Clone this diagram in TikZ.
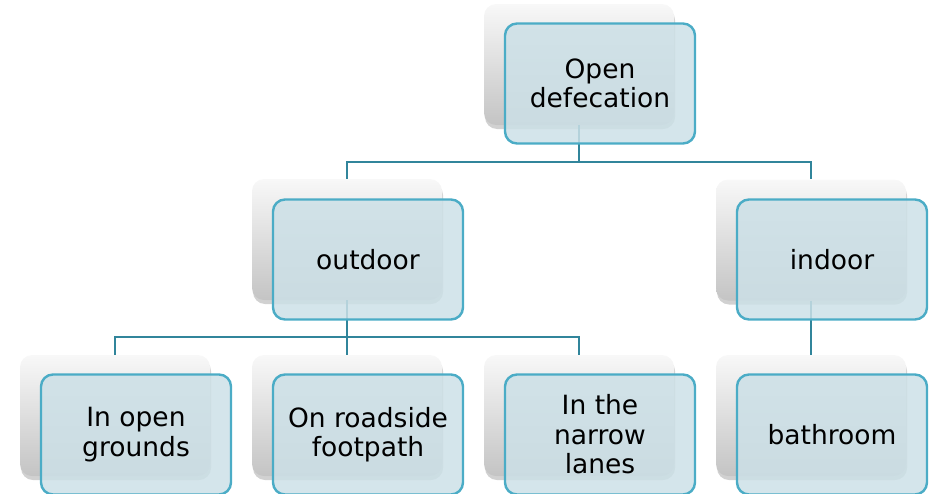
\documentclass[tikz,border=0pt]{standalone}
\usepackage{fontspec}
\setmainfont{DejaVu Sans}
\usetikzlibrary{shadows}
\definecolor{frontfill}{RGB}{204,224,231}
\definecolor{frontline}{RGB}{75,172,198}
\definecolor{connline}{RGB}{49,133,155}
\definecolor{backtop}{RGB}{248,248,248}
\definecolor{backmid}{RGB}{242,242,242}
\definecolor{backbot}{RGB}{196,196,196}
\tikzset{
  backbox/.style={rounded corners=12pt, minimum width=190pt, minimum height=121pt, inner sep=0pt,
    top color=backtop, middle color=backmid, bottom color=backbot,
    drop shadow={shadow xshift=1pt, shadow yshift=-4pt, fill=black, opacity=0.18}},
  frontbox/.style={rounded corners=12pt, minimum width=190pt, minimum height=120pt, inner sep=0pt,
    draw=frontline, line width=2.4pt, fill=frontfill, fill opacity=0.85, text opacity=1,
    align=center, text=black, font=\fontsize{26.5}{29.5}\selectfont},
  conn/.style={draw=connline, line width=2.2pt}
}
\begin{document}
\begin{tikzpicture}[x=1pt,y=-1pt]
\useasboundingbox (0,0) rectangle (932,493);
% back boxes
\node[backbox] (tB) at (579,64.5) {};
\node[backbox] (oB) at (347,239.5) {};
\node[backbox] (iB) at (811,240) {};
\node[backbox] (gB) at (115,415.5) {};
\node[backbox] (rB) at (347,415.5) {};
\node[backbox] (nB) at (579,415.5) {};
\node[backbox] (bB) at (811,415.5) {};
% connectors
\coordinate (j1) at (579,162);
\coordinate (j2) at (347,337);
\draw[conn] (tB.south) -- (j1);
\draw[conn] (oB.north) |- (j1) -| (iB.north);
\draw[conn] (oB.south) -- (j2);
\draw[conn] (gB.north) |- (j2) -| (nB.north);
\draw[conn] (j2) -- (rB.north);
\draw[conn] (iB.south) -- (bB.north);
% front boxes
\node[frontbox] (tF) at (600,83.5) {Open\\defecation};
\node[frontbox] (oF) at (368,259.5) {outdoor};
\node[frontbox] (iF) at (832,259.5) {indoor};
\node[frontbox] (gF) at (136,434.5) {In open\\grounds};
\node[frontbox] (rF) at (368,434.5) {On roadside\\footpath};
\node[frontbox] (nF) at (600,434.5) {In the\\narrow\\lanes};
\node[frontbox] (bF) at (832,434.5) {bathroom};
\end{tikzpicture}
\end{document}
